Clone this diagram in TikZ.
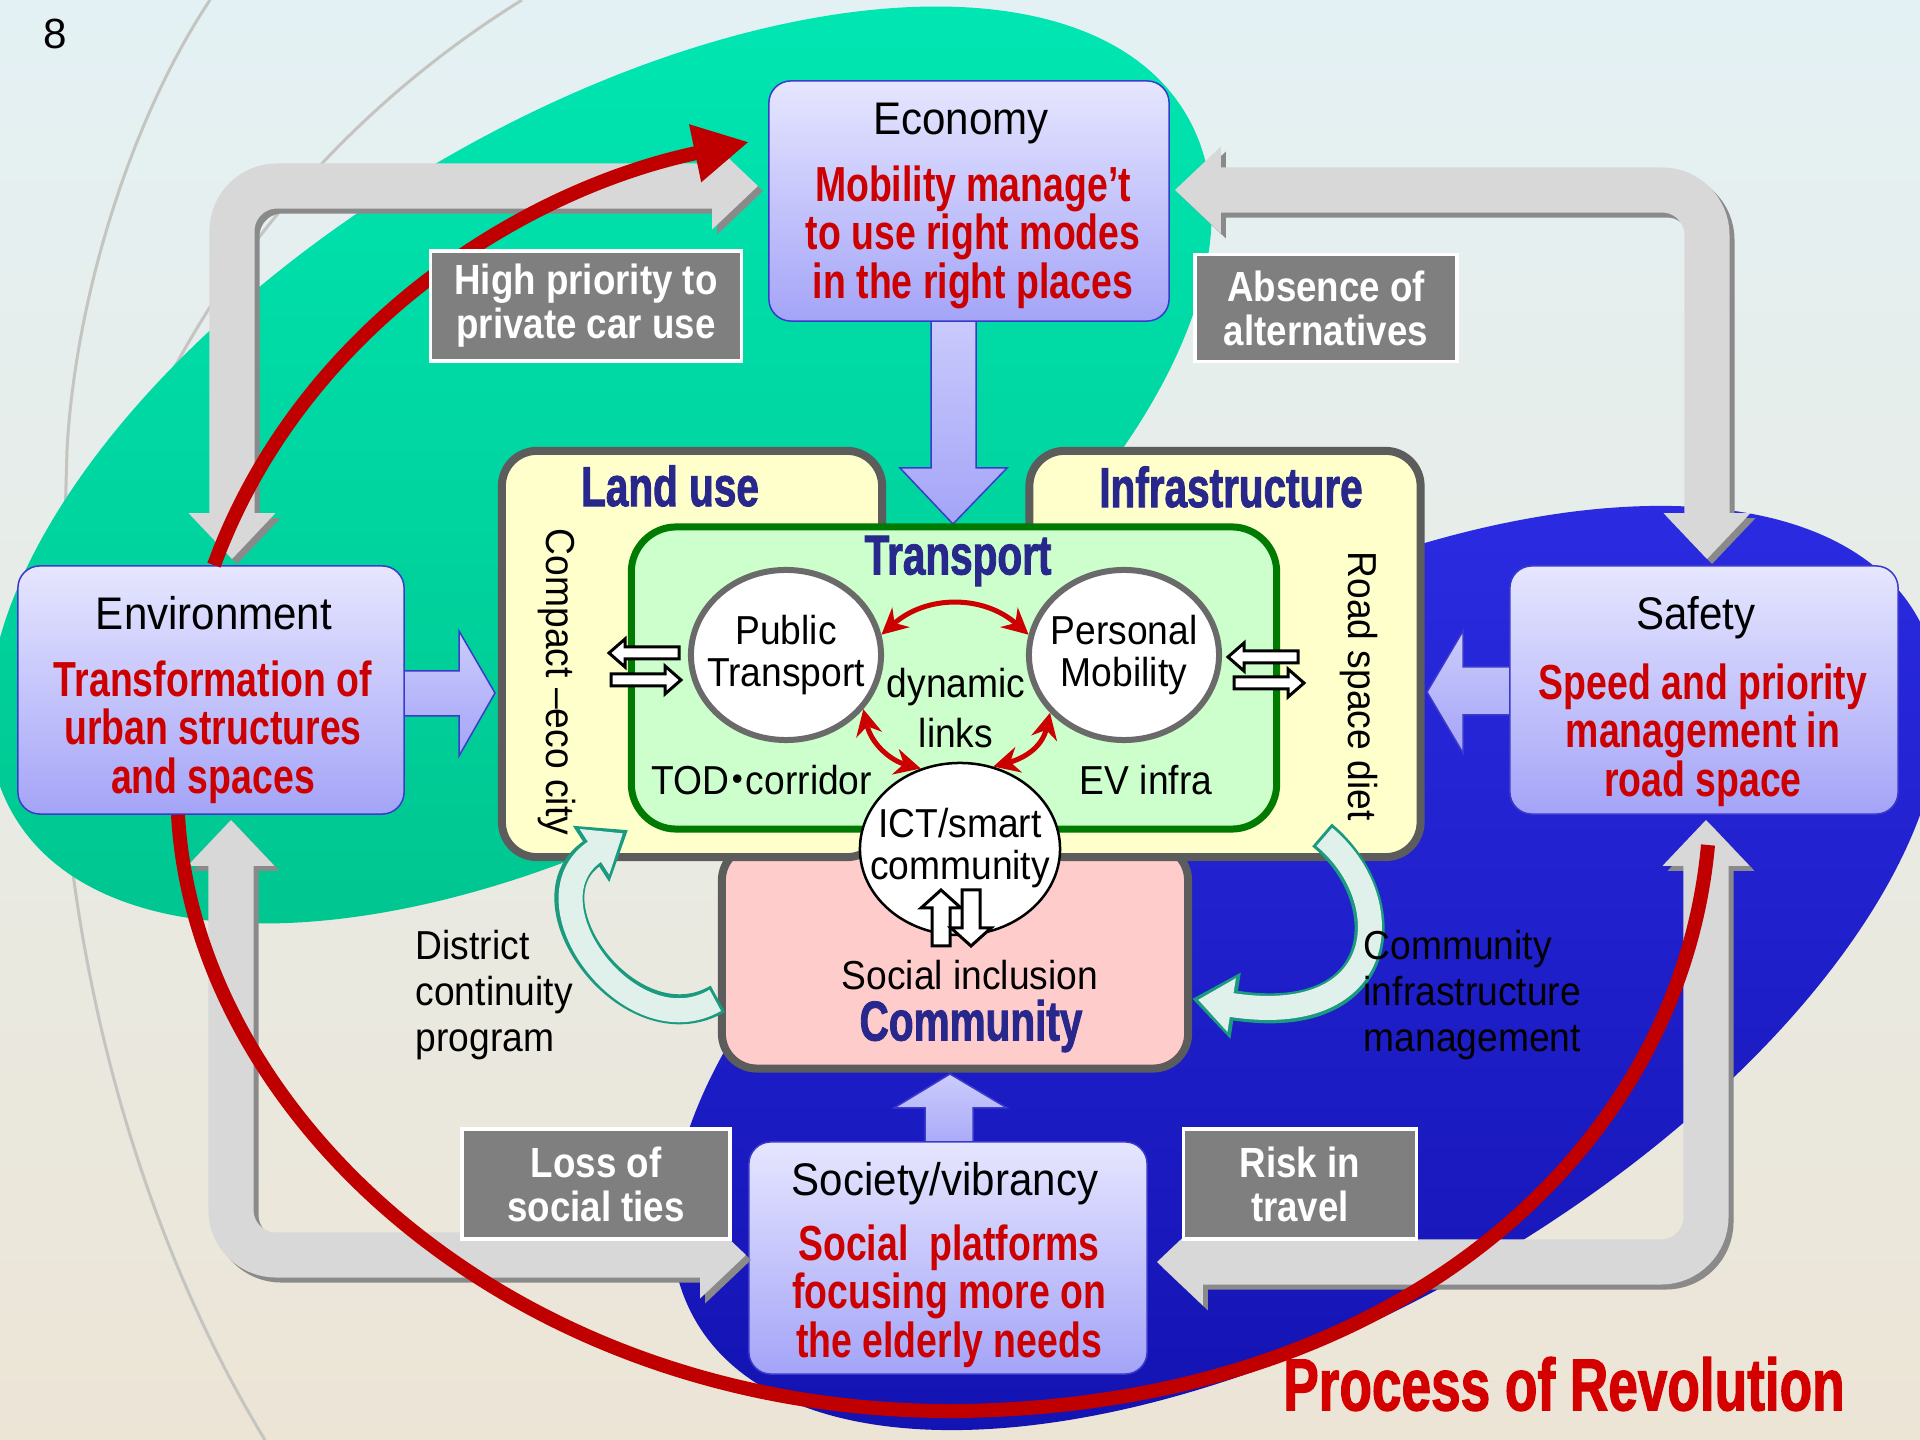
\documentclass[tikz,border=0pt]{standalone}
\usepackage{fontspec}
\usepackage{tikz}
\setmainfont{Liberation Sans}
\newfontfamily\bodyfont{Liberation Sans}[FakeStretch=0.92]
\newfontfamily\redfont{Liberation Sans}[FakeStretch=0.76]
\newfontfamily\labfont{Liberation Sans}[FakeStretch=0.87]
\newfontfamily\heavyfont{Liberation Sans}[FakeStretch=0.72,FakeBold=1.5]
\newfontfamily\cjkfont{Noto Sans CJK JP}
\usetikzlibrary{arrows.meta}
\usetikzlibrary{shapes.geometric}

\definecolor{bgtop}{HTML}{E4F1F4}
\definecolor{bgbot}{HTML}{ECE5D6}
\definecolor{ellgreenA}{HTML}{00E8B4}
\definecolor{ellgreenB}{HTML}{00C48E}
\definecolor{ellblueA}{HTML}{2C2CE4}
\definecolor{ellblueB}{HTML}{1212B0}
\definecolor{lavtop}{HTML}{E6E6FF}
\definecolor{lavbot}{HTML}{A4A4F8}
\definecolor{lavline}{HTML}{3A3ACC}
\definecolor{redtext}{HTML}{CC0000}
\definecolor{navy}{HTML}{28288C}
\definecolor{yelbox}{HTML}{FFFFCC}
\definecolor{greenbox}{HTML}{CCFFCC}
\definecolor{pinkbox}{HTML}{FFCCCC}
\definecolor{boxline}{HTML}{5C5C5C}
\definecolor{trgreen}{HTML}{007A00}
\definecolor{bubline}{HTML}{6A6A6A}
\definecolor{graybar}{HTML}{D8D8D8}
\definecolor{grayshadow}{HTML}{8A8A8A}
\definecolor{labgray}{HTML}{7F7F7F}
\definecolor{curvered}{HTML}{C00000}
\definecolor{linkred}{HTML}{CC0000}
\definecolor{tealline}{HTML}{1A9A7E}
\definecolor{tealfill}{HTML}{E0F0EB}
\definecolor{titlered}{HTML}{D40000}
\definecolor{arcgray}{HTML}{C4C4C0}

\tikzset{lavbox/.style = {draw=lavline, line width=0.15mm, rounded corners=0.22cm, top color=lavtop, bottom color=lavbot, inner sep=0}}
\tikzset{blockarrow/.style = {draw=lavline, line width=0.15mm, top color=lavtop!60!lavbot, bottom color=lavbot}}
\tikzset{hdr/.style = {font=\bodyfont\fontsize{13}{13}\selectfont}}
\tikzset{redtxt/.style = {text=redtext, align=center, font=\redfont\bfseries\fontsize{14}{13.8}\selectfont}}
\tikzset{bodytxt/.style = {font=\bodyfont\fontsize{11.5}{12}\selectfont}}
\tikzset{sidetxt/.style = {font=\bodyfont\fontsize{11.5}{13}\selectfont, align=left, anchor=west, inner sep=0}}
\tikzset{heavy/.style = {text=navy, font=\heavyfont\bfseries\fontsize{16}{16}\selectfont}}
\tikzset{cbox/.style = {draw=boxline, line width=0.8mm, rounded corners=0.35cm, inner sep=0}}
\tikzset{bubble/.style = {ellipse, draw=bubline, line width=0.6mm, fill=white, minimum width=1.9cm, minimum height=1.7cm, inner sep=0}}
\tikzset{lbar/.style = {line width=0.45cm, graybar, rounded corners=0.45cm, {Triangle[width=0.84cm,length=0.46cm]}-{Triangle[width=0.84cm,length=0.46cm]}}}
\tikzset{lbarshade/.style = {lbar, grayshadow, transform canvas={shift={(0.05cm,-0.05cm)}}}}
\tikzset{link/.style = {line width=0.5mm, linkred, {Stealth[length=2.6mm,width=2.6mm]}-{Stealth[length=2.6mm,width=2.6mm]}}}
\tikzset{tealout/.style = {line width=3mm, tealline, -{Triangle[width=6.4mm,length=4.4mm]}}}
\tikzset{tealin/.style = {line width=2.4mm, tealfill, shorten <=0.3mm, shorten >=0.6mm, -{Triangle[width=5.2mm,length=3.4mm]}}}
\tikzset{revo/.style = {line width=1.4mm, curvered}}
\tikzset{glabel/.style = {fill=labgray, draw=white, line width=0.35mm, text=white, align=center, inner sep=0, font=\labfont\bfseries\fontsize{12}{12.5}\selectfont}}
\tikzset{arcline/.style = {arcgray, line width=0.3mm}}
\tikzset{warrow/.pic = {\draw[fill=white, line width=0.3mm] (-35,-6) -- (19,-6) -- (19,-14) -- (35,0) -- (19,14) -- (19,6) -- (-35,6) -- cycle;}}
\tikzset{wvarrow/.pic = {\draw[fill=white, line width=0.3mm] (-28,-9) -- (10,-9) -- (10,-20) -- (28,0) -- (10,20) -- (10,9) -- (-28,9) -- cycle;}}

\begin{document}
\begin{tikzpicture}[x=0.01cm, y=-0.01cm]
      \useasboundingbox (0,0) rectangle (1920,1440);
      \clip (0,0) rectangle (1920,1440);

      \shade[top color=bgtop, bottom color=bgbot] (0,0) rectangle (1920,1440);
      \draw[arcline] (210,0) .. controls (130,120) and (75,300) .. (67,450) -- (60,700);
      \draw[arcline] (522,0) .. controls (200,200) and (40,550) .. (70,850) .. controls (100,1100) and (180,1300) .. (265,1440);

      \shade[top color=ellgreenA, bottom color=ellgreenB, rotate around={31:(600,465)}] (600,465) ellipse [x radius=683, y radius=343];
      \shade[top color=ellblueA, bottom color=ellblueB, rotate around={30:(1306,968)}] (1306,968) ellipse [x radius=705, y radius=345];

      \draw[blockarrow] (931,310) -- (931,468) -- (900,468) -- (953,524) -- (1007,468) -- (976,468) -- (976,310) -- cycle;
      \draw[blockarrow] (390,671) -- (459,671) -- (459,631) -- (495,693) -- (459,756) -- (459,716) -- (390,716) -- cycle;
      \draw[blockarrow] (1525,667) -- (1463,667) -- (1463,631) -- (1427,692) -- (1463,753) -- (1463,715) -- (1525,715) -- cycle;
      \draw[blockarrow] (925,1155) -- (925,1108) -- (894,1108) -- (950,1074) -- (1007,1108) -- (973,1108) -- (973,1155) -- cycle;

      \node[lavbox, minimum width=4cm, minimum height=2.4cm] (econ) at (969,201) {};
      \node[hdr] (econt) at (961,124) {Economy};
      \node[redtxt] (econr) at (973,237) {Mobility manage’t\\to use right modes\\in the right places};

      \node[lavbox, minimum width=3.86cm, minimum height=2.48cm] (env) at (211,690) {};
      \node[hdr] (envt) at (214,613) {Environment};
      \node[redtxt] (envr) at (213,732) {Transformation of\\urban structures\\and spaces};

      \node[lavbox, minimum width=3.88cm, minimum height=2.48cm] (safety) at (1704,690) {};
      \node[hdr] (saft) at (1696,618) {Safety};
      \node[redtxt] (safr) at (1703,735) {Speed and priority\\management in\\road space};

      \node[lavbox, minimum width=3.98cm, minimum height=2.32cm] (society) at (948,1258) {};
      \node[hdr] (socvt) at (945,1184) {Society/vibrancy};
      \node[redtxt] (socvr) at (949,1296) {Social\ \ platforms\\focusing more on\\the elderly needs};

      \coordinate (tlc) at (232,186);
      \coordinate (trc) at (1707,190);
      \coordinate (blc) at (231,1255);
      \coordinate (brc) at (1706,1262);
      \draw[lbarshade, shorten <=0.06cm, shorten >=0.1cm] (env.north -| tlc) -- (tlc) -- (econ.west |- tlc);
      \draw[lbar, shorten <=0.06cm, shorten >=0.1cm] (env.north -| tlc) -- (tlc) -- (econ.west |- tlc);
      \draw[lbarshade, shorten <=0.05cm, shorten >=0.06cm] (econ.east |- trc) -- (trc) -- (safety.north -| trc);
      \draw[lbar, shorten <=0.05cm, shorten >=0.06cm] (econ.east |- trc) -- (trc) -- (safety.north -| trc);
      \draw[lbarshade, shorten <=0.05cm, shorten >=0.02cm] (env.south -| blc) -- (blc) -- (society.west |- blc);
      \draw[lbar, shorten <=0.05cm, shorten >=0.02cm] (env.south -| blc) -- (blc) -- (society.west |- blc);
      \draw[lbarshade, shorten <=0.05cm, shorten >=0.09cm] (safety.south -| brc) -- (brc) -- (society.east |- brc);
      \draw[lbar, shorten <=0.05cm, shorten >=0.09cm] (safety.south -| brc) -- (brc) -- (society.east |- brc);

      \node[cbox, fill=pinkbox, minimum width=4.66cm, minimum height=2.23cm] (comm) at (955,957) {};
      \node[cbox, fill=yelbox, minimum width=3.8cm, minimum height=4.06cm] (land) at (692,654) {};
      \node[cbox, fill=yelbox, minimum width=3.91cm, minimum height=4.06cm] (infra) at (1225,654) {};
      \node[cbox, draw=trgreen, line width=0.7mm, rounded corners=0.45cm, fill=greenbox, minimum width=6.45cm, minimum height=3.02cm] (trans) at (954,678) {};

      \node[heavy] (landt) at (670,486) {Land use};
      \node[heavy] (inft) at (1231,487) {Infrastructure};
      \node[heavy] (trt) at (958,561) {Transport};
      \node[heavy] (commt) at (971,1026) {Community};
      \node[bodytxt] (soct) at (970,975) {Social inclusion};
      \node[bodytxt, rotate=-90] (compt) at (557,682) {Compact –eco city};
      \node[bodytxt, rotate=-90] (roadt) at (1359,686) {Road space diet};
      \node[bodytxt] (todt) at (762,780) {TOD\kern-0.3em{\cjkfont ・}\kern-0.3em corridor};
      \node[bodytxt] (evt) at (1146,780) {EV infra};
      \node[bodytxt, align=center] (dynt) at (956,708) {dynamic\\[2pt]links};

      \node[bubble] (pt) at (786,655) {};
      \node[bodytxt, align=center] (ptt) at (pt) {Public\\Transport};
      \node[bubble] (pm) at (1124,655) {};
      \node[bodytxt, align=center] (pmt) at (pm) {Personal\\Mobility};

      \pic[rotate=180] at (644,653) {warrow};
      \pic at (646,680) {warrow};
      \pic[rotate=180] at (1263,657) {warrow};
      \pic at (1269,683) {warrow};

      \node[ellipse, draw=black, line width=0.25mm, fill=white, minimum width=2cm, minimum height=1.72cm, inner sep=0] (ict) at (960,849) {};
      \node[bodytxt, align=center] (ictt) at (960,848) {ICT/smart\\community};
      \pic[rotate=90] at (941,918) {wvarrow};
      \pic[rotate=-90] at (971,918) {wvarrow};

      \draw[link] (pt.12) .. controls +(45,-40) and +(-45,-40) .. (pm.168);
      \draw[link] (pt.-35) .. controls +(8,35) and +(-30,-8) .. (ict.116);
      \draw[link] (pm.-142) .. controls +(-8,35) and +(30,-8) .. (ict.68);

      \coordinate (lutip) at (628,830);
      \coordinate (ritail) at (1322,835);
      \draw[tealout] (comm.190) .. controls (630,1050) and (520,900) .. (lutip);
      \draw[tealin] (comm.190) .. controls (630,1050) and (520,900) .. (lutip);
      \draw[tealout] (ritail) .. controls (1400,900) and (1390,1030) .. (comm.-10);
      \draw[tealin] (ritail) .. controls (1400,900) and (1390,1030) .. (comm.-10);

      \coordinate (rtop) at (214,0);
      \coordinate (rtip) at (749,142);
      \coordinate (rbot) at (178,0);
      \coordinate (rend) at (1708,845);
      \draw[revo, -{Triangle[width=5.5mm,length=5.5mm]}] (env.north -| rtop) .. controls (300,330) and (520,190) .. (rtip);
      \draw[revo] (env.south -| rbot) .. controls (195,1120) and (520,1415) .. (960,1411) .. controls (1400,1405) and (1680,1150) .. (rend);

      \node[glabel, minimum width=3.11cm, minimum height=1.1cm] (hipri) at (586,306) {High priority to\\private car use};
      \node[glabel, minimum width=2.62cm, minimum height=1.07cm] (absent) at (1326,308) {Absence of\\alternatives};
      \node[glabel, minimum width=2.68cm, minimum height=1.1cm] (loss) at (596,1184) {Loss of\\social ties};
      \node[glabel, minimum width=2.33cm, minimum height=1.1cm] (risk) at (1300,1184) {Risk in\\travel};

      \node[sidetxt] (distt) at (415,995) {District\\continuity\\program};
      \node[sidetxt] (cimt) at (1363,995) {Community\\infrastructure\\management};

      \node[text=titlered, font=\heavyfont\bfseries\fontsize{21}{21}\selectfont] (title) at (1564,1384) {Process of Revolution};
      \node[font=\fontsize{12}{12}\selectfont] (pgno) at (55,34) {8};
    \end{tikzpicture}
\end{document}
